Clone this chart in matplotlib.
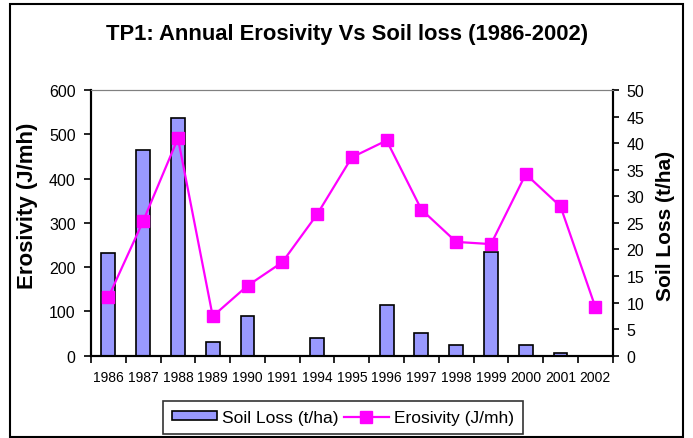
import numpy as np
import matplotlib
matplotlib.use('Agg')
import matplotlib.pyplot as plt
from matplotlib.patches import Rectangle

plt.rcParams['font.family'] = ['Liberation Sans', 'DejaVu Sans']

# dados
anos = ['1986', '1987', '1988', '1989', '1990', '1991', '1994', '1995',
        '1996', '1997', '1998', '1999', '2000', '2001', '2002']
perda_solo = [19.4, 38.7, 44.7, 2.5, 7.4, 0, 3.3, 0, 9.6, 4.3, 2.1, 19.5, 2.1, 0.6, 0]   # t/ha
erosividade = [132, 304, 491, 89, 158, 211, 319, 448, 486, 330, 257, 252, 410, 337, 110]  # J/mh

x = np.arange(len(anos))

fig = plt.figure(figsize=(6.93, 4.39), dpi=100)
fig.patches.append(Rectangle((10 / 693, 1.5 / 439), 673 / 693, 433 / 439, transform=fig.transFigure,
                             fill=False, edgecolor='black', linewidth=1.5))

ax = fig.add_axes([91 / 693, 1 - 356.7 / 439, 521.7 / 693, 265.7 / 439])
ax2 = ax.twinx()

# barras no eixo direito (perda de solo), linha no eixo esquerdo (erosividade)
ax2.set_facecolor('#C0C0C0')
ax.set_zorder(ax2.get_zorder() + 1)
ax.patch.set_visible(False)

barras = ax2.bar(x, perda_solo, width=0.4, color='#9999FF', edgecolor='black', linewidth=1.2,
                 label='Soil Loss (t/ha)')
linha, = ax.plot(x, erosividade, color='#FF00FF', linewidth=1.6, marker='s', markersize=8,
                 label='Erosivity (J/mh)')

ax.set_xlim(-0.5, len(anos) - 0.5)
ax.set_ylim(0, 600)
ax2.set_ylim(0, 50)
ax.set_yticks(range(0, 601, 100))
ax2.set_yticks(range(0, 51, 5))

ax.set_xticks(x)
ax.set_xticklabels(anos, fontsize=10)
ax.set_xticks(np.arange(-0.5, len(anos)), minor=True)
ax.tick_params(axis='x', which='major', length=0, pad=10)
ax.tick_params(axis='x', which='minor', length=5, width=1.2, direction='out')
ax.tick_params(axis='y', labelsize=11.5, length=5, width=1.2, direction='out', pad=6)
ax2.tick_params(axis='y', labelsize=11.5, length=4, width=1.2, direction='out', pad=6)

for a in (ax, ax2):
    a.spines['top'].set_color('#808080')
    a.spines['left'].set_linewidth(1.5)
    a.spines['right'].set_linewidth(1.5)
    a.spines['bottom'].set_linewidth(1.5)

ax.set_ylabel('Erosivity (J/mh)', fontsize=16, fontweight='bold')
ax.yaxis.set_label_coords(-53 / 521.7, (356.7 - 206) / 265.7)
ax2.set_ylabel('Soil Loss (t/ha)', fontsize=15, fontweight='bold', rotation=90)
ax2.yaxis.set_label_coords(1 + 43 / 521.7, (356.7 - 226) / 265.7)

fig.text(347 / 693, 1 - 40 / 439, 'TP1: Annual Erosivity Vs Soil loss (1986-2002)',
         ha='center', va='baseline', fontsize=15.8, fontweight='bold')

leg = fig.legend([barras, linha], ['Soil Loss (t/ha)', 'Erosivity (J/mh)'], loc='center',
                 bbox_to_anchor=(343 / 693, 1 - 418.5 / 439), ncol=2, fontsize=12.5, frameon=True,
                 fancybox=False, edgecolor='black', handlelength=2.6, handleheight=0.45,
                 columnspacing=0.3, handletextpad=0.3, borderpad=0.5, borderaxespad=0)
leg.get_frame().set_linewidth(1.2)

fig.savefig('out.png', dpi=100)
